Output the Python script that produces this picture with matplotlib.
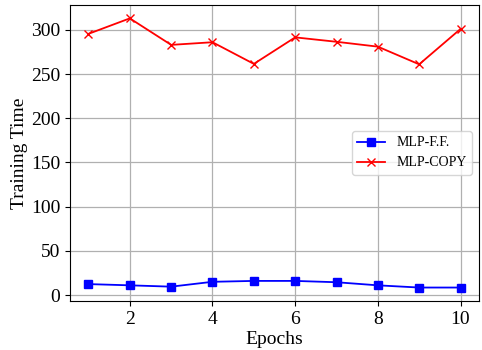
import matplotlib
matplotlib.use("Agg")
import matplotlib.pyplot as plt

plt.rcParams['font.family'] = ['Liberation Serif', 'DejaVu Serif']

epochs = [1, 2, 3, 4, 5, 6, 7, 8, 9, 10]
mlp_ff = [12.4, 11, 9.5, 15, 16, 16, 14.5, 11, 8.5, 8.5]
mlp_copy = [295.5, 313, 283, 286, 261.5, 291.5, 286.5, 281, 261, 301]

fig, ax = plt.subplots(figsize=(4.82, 3.5), dpi=100)
fig.subplots_adjust(left=0.145, right=0.994, bottom=0.14, top=0.986)

ax.plot(epochs, mlp_ff, color='blue', marker='s', markersize=6, linewidth=1.3, label='MLP-F.F.')
ax.plot(epochs, mlp_copy, color='red', marker='x', markersize=6, linewidth=1.3, label='MLP-COPY')

ax.set_xlabel('Epochs', fontsize=14, labelpad=2)
ax.set_ylabel('Training Time', fontsize=14, labelpad=2)
ax.tick_params(labelsize=14)
ax.set_xticks([2, 4, 6, 8, 10])
ax.grid(True, color='#b0b0b0', linewidth=0.9)
ax.legend(loc='center right', fontsize=10)

fig.savefig('out.png', dpi=100)
